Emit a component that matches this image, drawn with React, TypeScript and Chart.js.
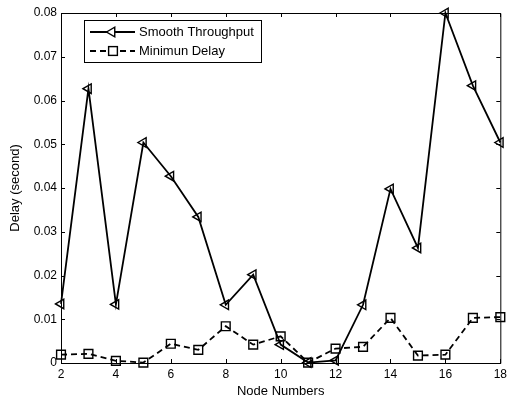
import React, { useEffect, useRef } from "react";
import { Chart, registerables } from "chart.js";

Chart.register(...registerables);

const nodeNumbers = [2, 3, 4, 5, 6, 7, 8, 9, 10, 11, 12, 13, 14, 15, 16, 17, 18];
const smoothThroughput = [0.0135, 0.0627, 0.0134, 0.0504, 0.0427, 0.0334, 0.0133, 0.0202, 0.0042, 0.0001, 0.0006, 0.0133, 0.0398, 0.0263, 0.08, 0.0634, 0.0504];
const minimumDelay = [0.0019, 0.0021, 0.0005, 0.0001, 0.0044, 0.003, 0.0084, 0.0042, 0.0061, 0.0001, 0.0033, 0.0037, 0.0103, 0.0017, 0.0019, 0.0103, 0.0105];
const seriesLabels = ["Smooth Throughput", "Minimun Delay"];
const xTitle = "Node Numbers";
const yTitle = "Delay (second)";

const FONT = "'Liberation Sans', Arial, sans-serif";

const framePlugin = {
  id: "frame",
  afterDraw(chart: any) {
    const { ctx, chartArea } = chart;
    const { left, right, top, bottom } = chartArea;
    const xs = chart.scales.x;
    const ys = chart.scales.y;
    ctx.save();
    ctx.strokeStyle = "#000";
    ctx.lineWidth = 1;
    ctx.beginPath();
    ctx.moveTo(left + 0.5, top + 0.5);
    ctx.lineTo(right + 0.5, top + 0.5);
    ctx.lineTo(right + 0.5, bottom + 0.5);
    ctx.lineTo(left + 0.5, bottom + 0.5);
    ctx.closePath();
    ctx.stroke();
    const tl = 4;
    ctx.beginPath();
    xs.ticks.forEach((t: any) => {
      const px = Math.round(xs.getPixelForValue(t.value)) + 0.5;
      ctx.moveTo(px, bottom);
      ctx.lineTo(px, bottom - tl);
      ctx.moveTo(px, top);
      ctx.lineTo(px, top + tl);
    });
    ys.ticks.forEach((t: any) => {
      const py = Math.round(ys.getPixelForValue(t.value)) + 0.5;
      ctx.moveTo(left, py);
      ctx.lineTo(left + tl, py);
      ctx.moveTo(right, py);
      ctx.lineTo(right - tl, py);
    });
    ctx.stroke();

    // legend
    const bx = 84.5, by = 20.5, bw = 177, bh = 42;
    ctx.fillStyle = "#fff";
    ctx.fillRect(bx, by, bw, bh);
    ctx.strokeRect(bx, by, bw, bh);
    const rows = [32, 51];
    const ds = chart.data.datasets;
    rows.forEach((ry, i) => {
      const d = ds[i];
      ctx.save();
      ctx.strokeStyle = "#000";
      ctx.lineWidth = d.borderWidth;
      ctx.setLineDash(d.borderDash || []);
      ctx.beginPath();
      ctx.moveTo(90, ry);
      ctx.lineTo(135, ry);
      ctx.stroke();
      ctx.setLineDash([]);
      ctx.fillStyle = "#fff";
      ctx.lineWidth = d.pointBorderWidth;
      const r = d.pointRadius;
      if (i === 0) {
        ctx.beginPath();
        for (let k = 0; k < 3; k++) {
          const a = (-90 * Math.PI) / 180 + (k * 2 * Math.PI) / 3;
          const px = 112 + Math.sin(a) * r;
          const py = ry - Math.cos(a) * r;
          if (k === 0) ctx.moveTo(px, py);
          else ctx.lineTo(px, py);
        }
        ctx.closePath();
        ctx.fill();
        ctx.stroke();
      } else {
        const s = r / Math.SQRT2;
        ctx.fillRect(113 - s, ry - s, 2 * s, 2 * s);
        ctx.strokeRect(113 - s, ry - s, 2 * s, 2 * s);
      }
      ctx.restore();
      ctx.fillStyle = "#000";
      ctx.font = `13px ${FONT}`;
      ctx.textBaseline = "middle";
      ctx.textAlign = "left";
      ctx.fillText(d.label, 139, ry);
    });
    ctx.restore();
  },
};

export default function App() {
  const ref = useRef<HTMLCanvasElement | null>(null);
  useEffect(() => {
    if (!ref.current) return;
    const chart = new Chart(ref.current, {
      type: "line",
      data: {
        datasets: [
          {
            label: seriesLabels[0],
            data: nodeNumbers.map((x, i) => ({ x, y: smoothThroughput[i] })),
            borderColor: "#000",
            borderWidth: 1.8,
            pointStyle: "triangle",
            rotation: -90,
            pointRadius: 5.5,
            pointBorderWidth: 1.4,
            pointBorderColor: "#000",
            pointBackgroundColor: "rgba(0,0,0,0)",
            tension: 0,
            clip: false,
          } as any,
          {
            label: seriesLabels[1],
            data: nodeNumbers.map((x, i) => ({ x, y: minimumDelay[i] })),
            borderColor: "#000",
            borderWidth: 1.8,
            borderDash: [6, 4],
            pointStyle: "rect",
            pointRadius: 6.2,
            pointBorderWidth: 1.4,
            pointBorderColor: "#000",
            pointBackgroundColor: "rgba(0,0,0,0)",
            tension: 0,
            clip: false,
          } as any,
        ],
      },
      options: {
        animation: false,
        responsive: false,
        layout: { padding: { left: 0, right: 5, top: 13, bottom: 0 } },
        plugins: { legend: { display: false }, tooltip: { enabled: false } },
        scales: {
          x: {
            type: "linear",
            min: 2,
            max: 18,
            afterFit: (s: any) => {
              s.height = 37;
            },
            ticks: {
              stepSize: 2,
              padding: 4,
              color: "#000",
              font: { family: FONT, size: 12 },
              maxRotation: 0,
            },
            grid: { display: false, drawTicks: false },
            border: { display: true, color: "#000", width: 1 },
            title: {
              display: true,
              text: xTitle,
              color: "#000",
              font: { family: FONT, size: 13 },
              padding: { top: 0, bottom: 1 },
            },
          },
          y: {
            type: "linear",
            min: 0,
            max: 0.08,
            afterFit: (s: any) => {
              s.width = 61;
            },
            ticks: {
              stepSize: 0.01,
              padding: 4,
              color: "#000",
              font: { family: FONT, size: 12 },
              callback: (v: any) => (Number(v) === 0 ? "0" : Number(v).toFixed(2)),
            },
            grid: { display: false, drawTicks: false },
            border: { display: true, color: "#000", width: 1 },
            title: {
              display: true,
              text: yTitle,
              color: "#000",
              font: { family: FONT, size: 13 },
              padding: { top: 8, bottom: 0 },
            },
          },
        },
      },
      plugins: [framePlugin],
    });
    return () => chart.destroy();
  }, []);
  return (
    <div style={{ position: "fixed", left: 0, top: 0, width: 511, height: 400, background: "#fff" }}>
      <canvas ref={ref} width={511} height={400} />
    </div>
  );
}
